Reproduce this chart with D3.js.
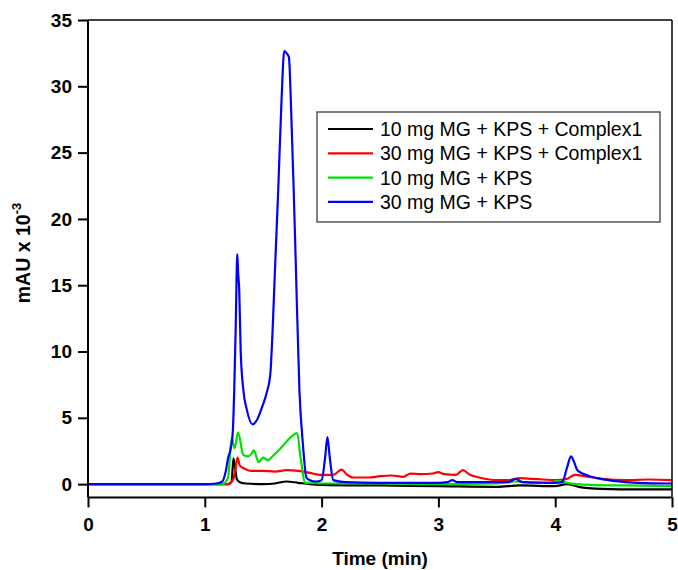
<!DOCTYPE html>
<html><head><meta charset="utf-8">
<script src="https://cdn.jsdelivr.net/npm/d3@7"></script>
<style>body{margin:0;background:#fff;} svg{display:block;}</style>
</head><body>
<svg id="chart" width="678" height="570"></svg>
<script>
const seriesNames = ["10 mg MG + KPS + Complex1","30 mg MG + KPS + Complex1","10 mg MG + KPS","30 mg MG + KPS"];
const seriesColors = ["#000000","#ff0000","#00e000","#0000ff"];
const xTicks = [0,1,2,3,4,5];
const yTicks = [0,5,10,15,20,25,30,35];

const blackT = [0,1.2,1.23,1.245,1.26,1.275,1.3,1.35,1.5,1.6,1.7,1.8,1.9,2.0,2.5,3.0,3.5,3.7,4.0,4.1,4.2,4.4,4.7,5.0];
const blackV = [0,0,0.2,1.95,1.2,0.35,0.15,0.05,0.0,0.05,0.2,0.1,0.0,-0.05,-0.1,-0.15,-0.2,-0.1,-0.15,0.0,-0.2,-0.35,-0.4,-0.4];

const redT = [0,1.2,1.24,1.26,1.28,1.3,1.345,1.4,1.5,1.6,1.7,1.8,1.9,1.99,2.1,2.17,2.22,2.27,2.4,2.5,2.6,2.7,2.76,2.85,2.95,3.0,3.05,3.15,3.21,3.27,3.35,3.5,3.6,3.7,3.8,3.9,4.0,4.1,4.17,4.25,4.4,4.6,4.8,5.0];
const redV = [0,0,0.3,1.0,2.0,1.4,1.15,1.0,1.0,0.95,1.05,1.0,0.85,0.7,0.7,1.1,0.7,0.5,0.5,0.6,0.65,0.55,0.8,0.75,0.8,0.9,0.75,0.7,1.05,0.7,0.5,0.3,0.3,0.45,0.4,0.35,0.3,0.4,0.7,0.6,0.4,0.3,0.35,0.3];

const greenT = [0,1.15,1.2,1.21,1.23,1.255,1.285,1.33,1.37,1.4,1.42,1.46,1.5,1.54,1.58,1.66,1.72,1.79,1.82,1.86,1.9,2.0,2.5,3.0,3.5,3.65,3.8,3.95,4.02,4.1,4.3,4.6,5.0];
const greenV = [0,0,0.5,1.5,3.5,2.7,3.9,2.2,2.1,2.3,2.55,1.65,2.0,1.8,2.1,2.8,3.4,3.85,2.0,0.1,0.1,0.05,0.05,0.0,0.05,0.2,0.1,0.1,0.25,0.1,-0.05,-0.1,-0.15];

const blueT = [0,1.0,1.1,1.15,1.18,1.2,1.22,1.24,1.252,1.265,1.278,1.285,1.295,1.307,1.33,1.36,1.41,1.45,1.49,1.53,1.56,1.58,1.6,1.63,1.658,1.68,1.7,1.72,1.74,1.76,1.78,1.81,1.84,1.87,1.9,1.95,2.0,2.03,2.05,2.07,2.1,2.2,2.5,3.0,3.08,3.12,3.16,3.6,3.66,3.72,4.0,4.06,4.1,4.135,4.16,4.19,4.25,4.36,4.5,4.7,5.0];
const blueV = [0,0,0.05,0.2,1.0,2.0,2.6,4.0,7.1,12,17.35,16.0,14.6,10.1,7.1,5.6,4.5,4.9,5.8,6.9,8.2,11.5,16,22.5,29.2,32.65,32.5,32.2,28,22.5,16.3,7.1,3,0.5,0.3,0.2,0.3,2.0,3.55,2.0,0.3,0.15,0.1,0.1,0.15,0.3,0.15,0.15,0.4,0.15,0.1,0.15,1.2,2.1,1.7,1.05,0.75,0.45,0.25,0.1,0.05];

const seriesT = [blackT, redT, greenT, blueT];
const seriesV = [blackV, redV, greenV, blueV];

const svg = d3.select("#chart");
const L = 88, R = 672, T = 20, B = 497.4;
const x = d3.scaleLinear().domain([0,5]).range([L,R]);
const y = d3.scaleLinear().domain([-1,35]).range([B,T]);
const font = "'Liberation Sans', Arial, sans-serif";

// curves
const line = d3.line().x(d=>x(d[0])).y(d=>y(d[1])).curve(d3.curveMonotoneX);
const g = svg.append("g");
seriesT.forEach((ts,i)=>{
  const pts = ts.map((t,j)=>[t, seriesV[i][j]]);
  g.append("path").attr("d", line(pts)).attr("fill","none")
   .attr("stroke", seriesColors[i]).attr("stroke-width",2.2).attr("stroke-linejoin","round");
});

// frame
svg.append("line").attr("x1",L).attr("x2",R).attr("y1",T).attr("y2",T).attr("stroke","#000").attr("stroke-width",1.5);
svg.append("line").attr("x1",R).attr("x2",R).attr("y1",T).attr("y2",B).attr("stroke","#000").attr("stroke-width",1.5);

const xAxis = svg.append("g").attr("transform",`translate(0,${B})`)
  .call(d3.axisBottom(x).tickValues(xTicks).tickSize(10).tickPadding(10).tickFormat(d3.format("d")));
const yAxis = svg.append("g").attr("transform",`translate(${L},0)`)
  .call(d3.axisLeft(y).tickValues(yTicks).tickSize(10).tickPadding(6).tickFormat(d3.format("d")));
[xAxis,yAxis].forEach(a=>{
  a.select(".domain").attr("stroke","#000").attr("stroke-width",2);
  a.selectAll(".tick line").attr("stroke","#000").attr("stroke-width",2);
  a.selectAll(".tick text").attr("fill","#000").style("font-family",font).style("font-size","19px").style("font-weight","bold");
});
yAxis.select(".domain").attr("d",`M-0,${B}V${T}`);
xAxis.select(".domain").attr("d",`M${L},0H${R}`);

// axis titles
svg.append("text").attr("x",380).attr("y",565).attr("text-anchor","middle")
  .style("font-family",font).style("font-size","19px").style("font-weight","bold").text("Time (min)");
const yt = svg.append("text").attr("transform","translate(30,253) rotate(-90)").attr("text-anchor","middle")
  .style("font-family",font).style("font-size","19.5px").style("font-weight","bold");
yt.append("tspan").text("mAU x 10");
yt.append("tspan").attr("dy",-9).style("font-size","13px").text("-3");

// legend
const lg = svg.append("g");
lg.append("rect").attr("x",317).attr("y",112).attr("width",343).attr("height",110)
  .attr("fill","#fff").attr("stroke","#555").attr("stroke-width",1.5);
seriesNames.forEach((n,i)=>{
  const yy = 129 + i*24.3;
  lg.append("line").attr("x1",328).attr("x2",373).attr("y1",yy).attr("y2",yy)
    .attr("stroke",seriesColors[i]).attr("stroke-width",2.2);
  lg.append("text").attr("x",380).attr("y",yy+7).style("font-family",font).style("font-size","19.5px")
    .attr("fill","#000").text(n);
});
</script>
</body></html>
